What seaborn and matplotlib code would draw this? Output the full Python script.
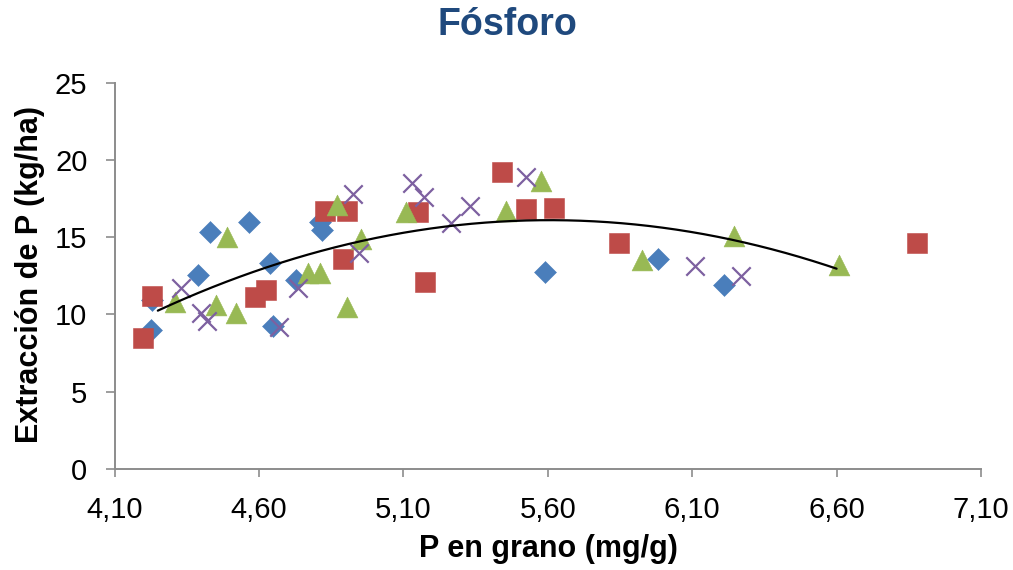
import numpy as np
import pandas as pd
import matplotlib
matplotlib.use("Agg")
import matplotlib.pyplot as plt
import seaborn as sns
from matplotlib.ticker import FuncFormatter

# P content in grain (mg/g) and P extraction (kg/ha), four series
s1_x = [4.225, 4.23, 4.39, 4.43, 4.565, 4.64, 4.65, 4.73, 4.81, 4.82, 5.59, 5.98, 6.21]
s1_y = [8.98, 10.9, 12.53, 15.3, 16.0, 13.3, 9.24, 12.2, 15.96, 15.44, 12.73, 13.6, 11.9]

s2_x = [4.20, 4.23, 4.585, 4.625, 4.83, 4.905, 4.89, 5.15, 5.175, 5.44, 5.525, 5.62, 5.845, 6.88]
s2_y = [8.5, 11.2, 11.1, 11.55, 16.7, 16.7, 13.6, 16.6, 12.1, 19.2, 16.8, 16.9, 14.6, 14.6]

s3_x = [4.31, 4.49, 4.45, 4.52, 4.77, 4.81, 4.87, 4.905, 4.955, 5.11, 5.455, 5.575, 5.925, 6.245, 6.61]
s3_y = [10.8, 15.0, 10.6, 10.1, 12.7, 12.7, 17.05, 10.5, 14.9, 16.6, 16.7, 18.6, 13.5, 15.1, 13.2]

s4_x = [4.33, 4.40, 4.42, 4.67, 4.735, 4.925, 4.945, 5.13, 5.17, 5.265, 5.33, 5.525, 6.11, 6.27]
s4_y = [11.7, 10.1, 9.6, 9.2, 11.7, 17.8, 13.95, 18.5, 17.6, 15.9, 17.0, 18.9, 13.1, 12.5]

# span of the quadratic trend line
trend_range = [4.25, 6.60]

x_ticks = [4.10, 4.60, 5.10, 5.60, 6.10, 6.60, 7.10]
y_ticks = [0, 5, 10, 15, 20, 25]

sns.set_theme(style="white")
plt.rcParams["font.family"] = ["Liberation Sans", "DejaVu Sans"]

fig = plt.figure(figsize=(10.13, 5.70), dpi=100)
W, H = 1013, 570
ax = fig.add_axes([114.5 / W, (H - 469) / H, (981 - 114.5) / W, (469 - 82.5) / H])

series = [
    (s1_x, s1_y, "D", "#4A7EBB", 125, None),
    (s2_x, s2_y, "s", "#BE4B48", 210, None),
    (s3_x, s3_y, "^", "#98B954", 225, None),
    (s4_x, s4_y, "x", "#7D60A0", 175, 1.6),
]
for xs, ys, mk, col, size, lw in series:
    df = pd.DataFrame({"x": xs, "y": ys})
    kw = dict(data=df, x="x", y="y", marker=mk, s=size, ax=ax, legend=False, zorder=3)
    if mk == "x":
        sns.scatterplot(color=col, linewidth=lw, **kw)
    else:
        sns.scatterplot(color=col, edgecolor=col, linewidth=0.4, **kw)

# second-order polynomial fitted to all points
all_x = np.concatenate([s1_x, s2_x, s3_x, s4_x])
all_y = np.concatenate([s1_y, s2_y, s3_y, s4_y])
coef = np.polyfit(all_x, all_y, 2)
tx = np.linspace(trend_range[0], trend_range[1], 200)
sns.lineplot(x=tx, y=np.polyval(coef, tx), color="black", linewidth=1.6, ax=ax, zorder=4)

ax.set_xlim(x_ticks[0], x_ticks[-1])
ax.set_ylim(y_ticks[0], y_ticks[-1])
ax.set_xticks(x_ticks)
ax.set_yticks(y_ticks)
ax.xaxis.set_major_formatter(FuncFormatter(lambda v, p: f"{v:.2f}".replace(".", ",")))
ax.yaxis.set_major_formatter(FuncFormatter(lambda v, p: f"{v:.0f}"))

axis_col = "#8C8C8C"
for side in ["top", "right"]:
    ax.spines[side].set_visible(False)
for side in ["left", "bottom"]:
    ax.spines[side].set_color(axis_col)
    ax.spines[side].set_linewidth(1.4)
ax.tick_params(axis="y", direction="out", length=6.5, width=1.2, color=axis_col,
               labelsize=21, pad=13, labelcolor="black", left=True)
ax.tick_params(axis="x", direction="out", length=5.5, width=1.2, color=axis_col,
               labelsize=21, pad=14, labelcolor="black", bottom=True)
ax.set_xlabel("")
ax.set_ylabel("")
ax.grid(False)

fig.text(507 / W, 1 - 25 / H, "Fósforo", ha="center", va="center",
         fontsize=27, fontweight="bold", color="#1F497D")
fig.text(548 / W, 1 - 549 / H, "P en grano (mg/g)", ha="center", va="center",
         fontsize=22, fontweight="bold", color="black")
fig.text(30 / W, 1 - 275 / H, "Extracción de P (kg/ha)", ha="center", va="center",
         rotation=90, fontsize=22, fontweight="bold", color="black")

fig.savefig("out.png", dpi=100)
